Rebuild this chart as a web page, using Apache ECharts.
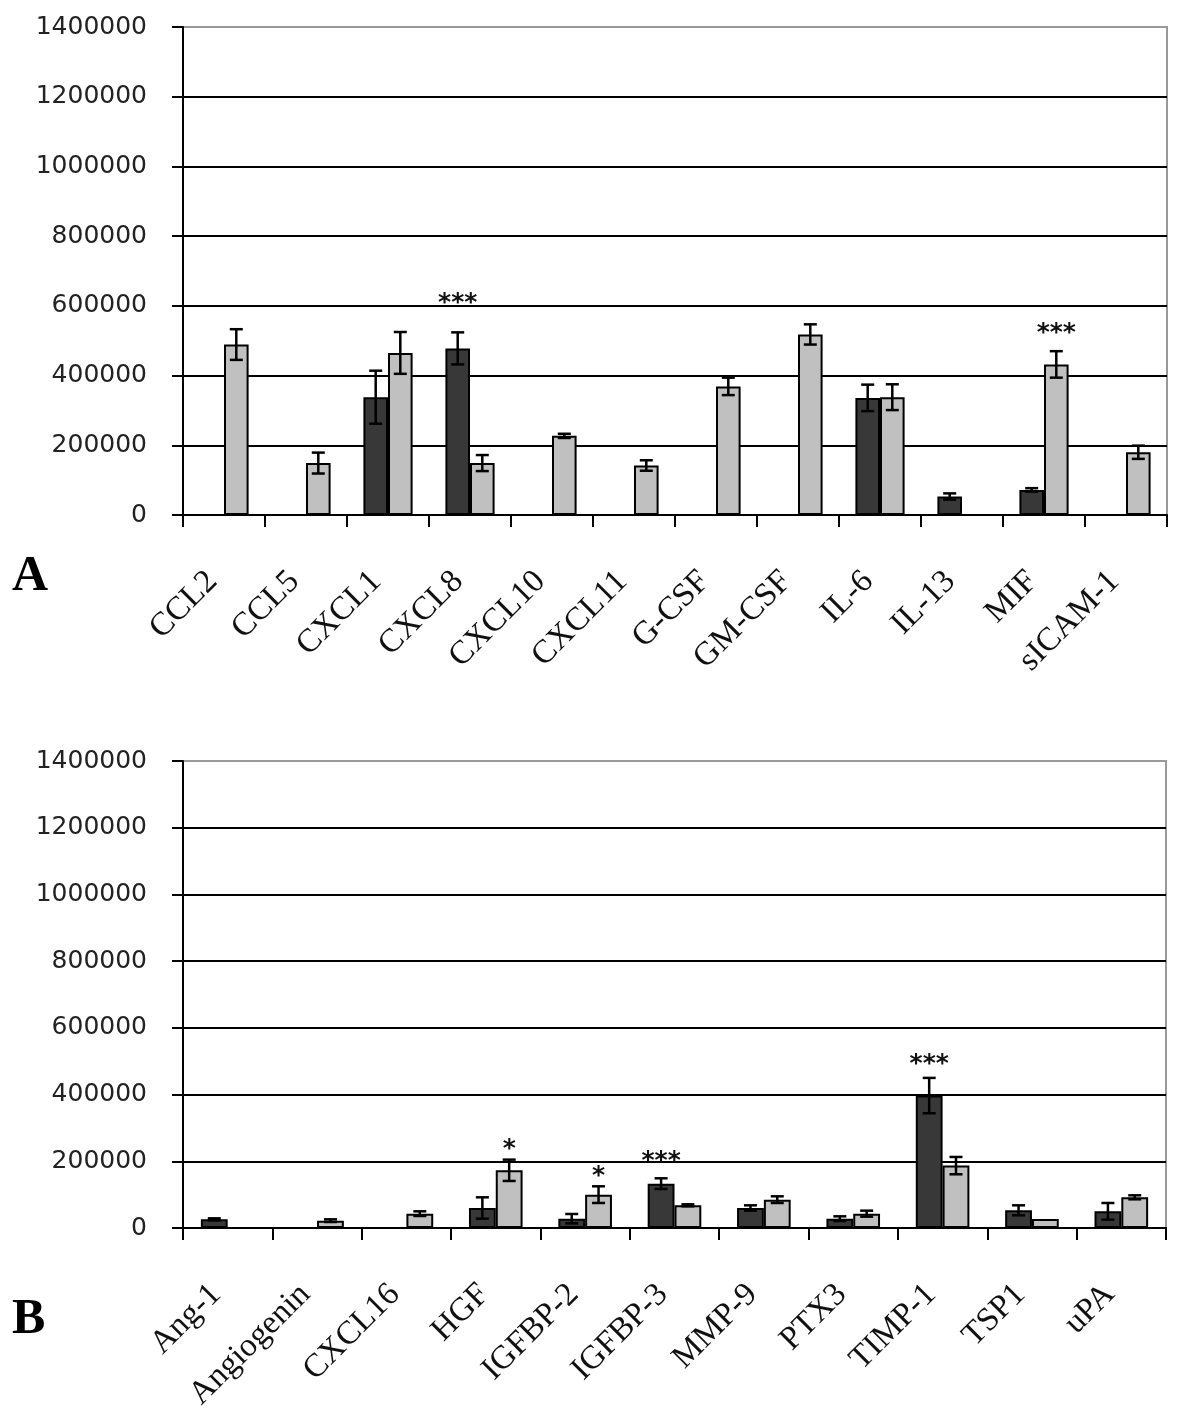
<!DOCTYPE html>
<html>
<head>
<meta charset="utf-8">
<script src="https://cdn.jsdelivr.net/npm/echarts@6/dist/echarts.min.js"></script>
<style>html,body{margin:0;padding:0;background:#fff}#c{width:1200px;height:1420px}</style>
</head>
<body>
<div id="c"></div>
<script>
// ---------- Panel A data ----------
const catsA = ['CCL2','CCL5','CXCL1','CXCL8','CXCL10','CXCL11','G-CSF','GM-CSF','IL-6','IL-13','MIF','sICAM-1'];
const darkA = [null, null, 338000, 478000, null, null, null, null, 336000, 53000, 72000, null];
const darkErrA = [0, 0, 76000, 46000, 0, 0, 0, 0, 38000, 9000, 5000, 0];
const lightA = [489000, 149000, 465000, 149000, 227000, 142000, 369000, 518000, 338000, null, 432000, 180000];
const lightErrA = [44000, 30000, 60000, 23000, 6000, 15000, 25000, 29000, 37000, 0, 38000, 19000];
const annCatA = ['CXCL8', 'MIF'];
const annSideA = [0, 1];
const annTextA = ['***', '***'];
const annValA = [626000, 540000];

// ---------- Panel B data ----------
const catsB = ['Ang-1','Angiogenin','CXCL16','HGF','IGFBP-2','IGFBP-3','MMP-9','PTX3','TIMP-1','TSP1','uPA'];
const darkB = [26000, null, null, 60000, 28000, 133000, 60000, 28000, 397000, 53000, 50000];
const darkErrB = [3000, 0, 0, 32000, 14000, 16000, 8000, 7000, 53000, 15000, 25000];
const lightB = [null, 22000, 43000, 173000, 100000, 68000, 85000, 43000, 187000, 27000, 92000];
const lightErrB = [0, 4000, 7000, 32000, 25000, 3000, 10000, 9000, 26000, 0, 6000];
const annCatB = ['HGF', 'IGFBP-2', 'IGFBP-3', 'TIMP-1'];
const annSideB = [1, 1, 0, 0];
const annTextB = ['*', '*', '***', '***'];
const annValB = [255000, 175000, 220000, 510000];

const yTicks = [0, 200000, 400000, 600000, 800000, 1000000, 1200000, 1400000];

const GAP = 0.4;
const DARK = '#383838';
const LIGHT = '#c0c0c0';

function errData(vals, errs, side) {
  const out = [];
  vals.forEach((v, i) => { if (v != null && errs[i] > 0) out.push([i, v, errs[i], side]); });
  return out;
}
function errRender(params, api) {
  const ci = api.value(0), v = api.value(1), e = api.value(2), side = api.value(3);
  const catW = api.size([1, 0])[0];
  const bw = catW * (1 - GAP) / 2;
  const cx = api.coord([ci, v])[0] + (side === 0 ? -bw / 2 : bw / 2);
  const yt = api.coord([ci, v + e])[1];
  const yb = api.coord([ci, Math.max(0, v - e)])[1];
  const hw = 6.5;
  const st = { stroke: '#000', lineWidth: 2.5 };
  return { type: 'group', children: [
    { type: 'line', shape: { x1: cx, y1: yt, x2: cx, y2: yb }, style: st },
    { type: 'line', shape: { x1: cx - hw, y1: yt, x2: cx + hw, y2: yt }, style: st },
    { type: 'line', shape: { x1: cx - hw, y1: yb, x2: cx + hw, y2: yb }, style: st }
  ]};
}
function starRenderFactory(texts) {
  return function (params, api) {
    const ci = api.value(0), v = api.value(1), side = api.value(2);
    const catW = api.size([1, 0])[0];
    const bw = catW * (1 - GAP) / 2;
    const p = api.coord([ci, v]);
    return { type: 'text', x: p[0] + (side === 0 ? -bw / 2 : bw / 2), y: p[1] + 7,
      style: { text: texts[params.dataIndex], fill: '#111', font: 'bold 25px "DejaVu Sans"',
        align: 'center', verticalAlign: 'middle' } };
  };
}

function xAxisDef(cats, gi) {
  return {
    type: 'category', gridIndex: gi, data: cats,
    axisLine: { lineStyle: { color: '#000', width: 2 } },
    axisTick: { show: true, length: 12, lineStyle: { color: '#000', width: 2 } },
    axisLabel: { interval: 0, rotate: 45, margin: 73, align: 'right', verticalAlign: 'bottom',
      fontFamily: '"Liberation Serif"', fontSize: 33, color: '#111' },
    splitLine: { show: false }
  };
}
function yAxisDef(gi) {
  return {
    type: 'value', gridIndex: gi, min: yTicks[0], max: yTicks[yTicks.length - 1],
    interval: yTicks[1] - yTicks[0],
    axisLine: { show: true, lineStyle: { color: '#000', width: 2 } },
    axisTick: { show: true, length: 11, lineStyle: { color: '#000', width: 2 } },
    axisLabel: { margin: 36, fontFamily: '"DejaVu Sans"', fontSize: 25, color: '#222',
      formatter: v => String(v) },
    splitLine: { show: true, showMinLine: false, showMaxLine: false, lineStyle: { color: '#000', width: 2 } }
  };
}
function barSeries(vals, color, gi) {
  return { type: 'bar', xAxisIndex: gi, yAxisIndex: gi, data: vals, barGap: '0%',
    barCategoryGap: (GAP * 100) + '%',
    itemStyle: { color: color, borderColor: '#000', borderWidth: 2 }, silent: true, z: 2 };
}

const chart = echarts.init(document.getElementById('c'), null, { renderer: 'canvas' });
chart.setOption({
  animation: false,
  backgroundColor: '#fff',
  grid: [
    { left: 183, top: 27, right: 33, bottom: 905, show: true, borderColor: '#999', borderWidth: 2 },
    { left: 183, top: 761, right: 34, bottom: 192, show: true, borderColor: '#999', borderWidth: 2 }
  ],
  xAxis: [xAxisDef(catsA, 0), xAxisDef(catsB, 1)],
  yAxis: [yAxisDef(0), yAxisDef(1)],
  graphic: [
    { type: 'text', left: 12, top: 552, style: { text: 'A', font: 'bold 50px "Liberation Serif"', fill: '#000' } },
    { type: 'text', left: 12, top: 1295, style: { text: 'B', font: 'bold 50px "Liberation Serif"', fill: '#000' } }
  ],
  series: [
    barSeries(darkA, DARK, 0),
    barSeries(lightA, LIGHT, 0),
    { type: 'custom', xAxisIndex: 0, yAxisIndex: 0, renderItem: errRender, z: 5, silent: true,
      data: errData(darkA, darkErrA, 0).concat(errData(lightA, lightErrA, 1)) },
    { type: 'custom', xAxisIndex: 0, yAxisIndex: 0, renderItem: starRenderFactory(annTextA), z: 6, silent: true,
      data: annCatA.map((c, i) => [catsA.indexOf(c), annValA[i], annSideA[i]]) },
    barSeries(darkB, DARK, 1),
    barSeries(lightB, LIGHT, 1),
    { type: 'custom', xAxisIndex: 1, yAxisIndex: 1, renderItem: errRender, z: 5, silent: true,
      data: errData(darkB, darkErrB, 0).concat(errData(lightB, lightErrB, 1)) },
    { type: 'custom', xAxisIndex: 1, yAxisIndex: 1, renderItem: starRenderFactory(annTextB), z: 6, silent: true,
      data: annCatB.map((c, i) => [catsB.indexOf(c), annValB[i], annSideB[i]]) }
  ]
});
</script>
</body>
</html>
